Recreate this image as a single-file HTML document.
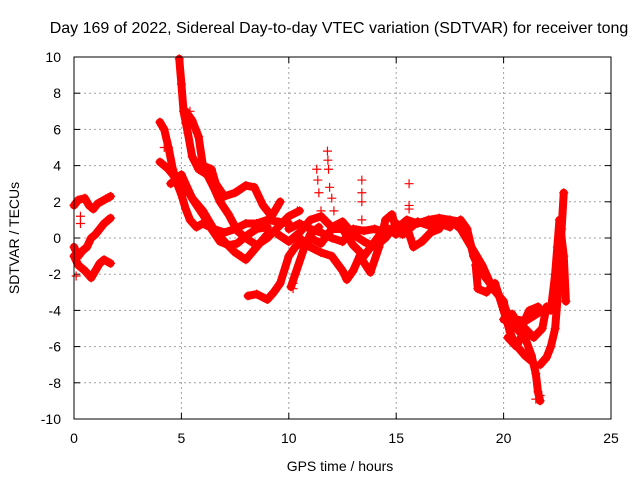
<!DOCTYPE html>
<html><head><meta charset="utf-8"><style>
html,body{margin:0;padding:0;background:#fff}
svg{display:block;font-family:"Liberation Sans",sans-serif}
</style></head><body>
<svg id="chart" width="640" height="480" viewBox="0 0 640 480">
<text x="339" y="33" font-size="16" text-anchor="middle">Day 169 of 2022, Sidereal Day-to-day VTEC variation (SDTVAR) for receiver tong</text>
<text x="340" y="471" font-size="14" text-anchor="middle">GPS time / hours</text>
<text x="19" y="238" font-size="14" text-anchor="middle" transform="rotate(-90 19 238)">SDTVAR / TECUs</text>
<g id="grid"></g>
<g id="ticks"></g>
<g id="marks"></g>
<rect x="74" y="57" width="537" height="362" fill="none" stroke="#000" stroke-width="1"/>
</svg>
<script>
const xTicks=[0,5,10,15,20,25];
const yTicks=[-10,-8,-6,-4,-2,0,2,4,6,8,10];
const track1=[[0,1.8],[0.2,2.1],[0.5,2.2],[0.7,1.8],[0.9,1.6],[1.1,1.9],[1.4,2.1],[1.7,2.3]];
const track2=[[0,-0.5],[0.2,-1.0],[0.4,-0.7],[0.6,-0.5],[0.8,0],[1.0,0.2],[1.2,0.5],[1.4,0.8],[1.7,1.1]];
const track3=[[0,-1.0],[0.2,-1.5],[0.5,-1.8],[0.8,-2.2],[1.0,-1.8],[1.2,-1.4],[1.4,-1.2],[1.7,-1.4]];
const track4=[[4.0,6.4],[4.2,6.0],[4.4,5.0],[4.6,3.8],[4.8,3.0],[5.0,2.4],[5.2,1.6],[5.4,1.0],[5.7,0.6],[6.0,0.8],[6.5,0.5],[7.0,0.3],[7.5,0.5],[8.0,0.8],[8.5,0.8],[9.0,1.0],[9.5,0.9],[10,0.8]];
const track5=[[4.0,4.2],[4.4,3.8],[4.8,3.2],[5.2,2.8],[5.6,2.0],[6.0,1.3],[6.4,0.5],[6.8,-0.2],[7.2,-0.4],[7.6,-0.3],[8.0,0.1],[8.5,0.5],[9,0.6]];
const track6=[[4.9,9.9],[5.0,8.5],[5.1,7.0],[5.3,5.8],[5.5,4.5],[5.8,3.8],[6.2,3.5],[6.5,2.8],[6.8,2.0],[7.2,1.3],[7.6,0.4],[8.0,0.0],[8.5,-0.4],[9.0,0.0],[9.5,0.6],[10,1.2],[10.5,1.5]];
const track7=[[5.2,7.0],[5.5,6.5],[5.8,5.6],[6.0,4.0],[6.4,3.8],[6.6,3.0],[7,2.3],[7.5,2.5],[8,2.9],[8.4,2.8],[8.8,1.8],[9.2,1.2],[9.6,2.0]];
const track8=[[4.5,3.0],[5.0,3.5],[5.5,2.2],[6,1.5],[6.5,0.5],[7,-0.2],[7.5,-0.8],[8,-1.2],[8.5,-0.5],[9,0.2]];
const track9=[[8.1,-3.2],[8.5,-3.1],[9,-3.4],[9.3,-3.0],[9.6,-2.5],[10,-1.0],[10.3,-0.5],[10.6,-0.1]];
const track10=[[10.1,-2.7],[10.3,-2.0],[10.7,-0.6],[11,0.2],[11.4,0.6]];
const track11=[[10,0.5],[10.5,0.8],[11,0.5],[11.5,0.3],[12,0],[12.5,-0.2],[13,0.5],[13.5,0.4],[14,0.5],[14.5,0.3],[15,0.5],[15.5,1.0],[16,0.8],[16.5,1.0],[17,1.1],[17.5,1.0],[18,0.9]];
const track12=[[10.5,0],[11,-0.5],[11.5,-0.8],[12,-1.0],[12.5,-1.8],[12.7,-2.3],[13.0,-1.8],[13.3,-1.0],[13.8,-1.9],[14.2,-0.5],[14.5,1.0],[14.8,1.3],[15,0.5],[15.3,0.2],[15.5,0.6],[15.8,-0.5],[16.2,-0.2],[16.6,0.3],[17,0.5]];
const track13=[[17.5,1.0],[18,0.5],[18.5,-0.5],[19,-1.5],[19.5,-2.8],[20,-3.5],[20.2,-4.5],[20.6,-5.0],[21.0,-5.5],[21.3,-6.5],[21.5,-7.5],[21.6,-8.5],[21.7,-9.0]];
const track14=[[18,1.0],[18.3,0.5],[18.6,-1.0],[18.9,-1.8],[19.3,-2.4],[19.8,-3.2],[20.2,-4.2],[20.6,-4.5],[21,-4.6],[21.4,-4.3],[21.8,-4.0]];
const track15=[[18.7,-1.5],[18.8,-2.8],[19.2,-3.0],[19.6,-2.5],[20,-4.0],[20.3,-5.2],[20.5,-5.8],[21,-6.5],[21.3,-6.8]];
const track16=[[21.7,-7.0],[22,-6.6],[22.2,-6.0],[22.4,-5.0],[22.5,-3.5],[22.6,-1.5],[22.7,0.5],[22.8,2.5]];
const track17=[[22.2,-4.0],[22.4,-2.0],[22.5,-0.5],[22.6,1.0],[22.8,-1.0],[22.9,-3.5]];
const track18=[[9.5,0.2],[10,-0.2],[10.5,0.3],[11,1.0],[11.5,1.2],[12,0.6],[12.5,0.9],[13,0.2],[13.5,-0.2],[14,-0.5],[14.5,0.0],[15,0.8],[15.5,0.4],[16,0.9],[16.5,0.7],[17,0.8],[17.5,0.6]];
const track19=[[11,0],[11.5,-0.3],[12,0.5],[12.5,0.5],[13,-0.4],[13.5,-1.0],[14,-0.2],[14.5,0.6],[15,0.2]];
const track20=[[20,-4.5],[20.4,-4.2],[20.8,-5.0],[21.2,-4.0],[21.6,-3.8],[21.9,-4.2]];
const track21=[[20.2,-5.5],[20.6,-6.0],[21.0,-5.0],[21.4,-5.5],[21.8,-5.0],[22.0,-3.8]];
const spikes=[[11.3,3.8],[11.35,3.2],[11.4,2.5],[11.5,1.5],[11.8,4.8],[11.82,4.3],[11.85,3.8],[11.9,2.8],[12.1,1.5],[12.0,2.2],[13.4,3.2],[13.4,2.5],[13.4,2.0],[13.4,1.0],[15.6,3.0],[15.6,1.8],[15.6,1.6],[10.4,1.5],[0.3,1.2],[0.3,0.8],[0.1,-2.1],[21.5,-8.9],[21.7,-8.7],[10.2,-2.8],[10.2,-2.5],[4.2,5.0],[5.4,7.0]];
const tracks=[track1,track2,track3,track4,track5,track6,track7,track8,track9,track10,track11,track12,track13,track14,track15,track16,track17,track18,track19,track20,track21];

const NS="http://www.w3.org/2000/svg";
const X0=74,X1=611,Y0=419,Y1=57;
function sx(v){return X0+(v-0)/(25-0)*(X1-X0);}
function sy(v){return Y0-(v+10)/20*(Y0-Y1);}
const grid=document.getElementById('grid'),ticks=document.getElementById('ticks'),marks=document.getElementById('marks');
function mk(tag,attrs,parent){const e=document.createElementNS(NS,tag);for(const k in attrs)e.setAttribute(k,attrs[k]);parent.appendChild(e);return e;}
xTicks.forEach(t=>{
  const x=sx(t);
  if(t>0&&t<25){const g=mk('line',{x1:x,x2:x,y1:Y1,y2:Y0,stroke:'#a0a0a0','stroke-dasharray':'2,3'},grid);
  
  }
  mk('line',{x1:x,x2:x,y1:Y0,y2:Y0-6,stroke:'#000'},ticks);
  mk('line',{x1:x,x2:x,y1:Y1,y2:Y1+6,stroke:'#000'},ticks);
  const l=mk('text',{x:x,y:443,'font-size':14,'text-anchor':'middle'},ticks);
  l.textContent=t;
  
  
});
yTicks.forEach(t=>{
  const y=sy(t);
  if(t>-10&&t<10){const g=mk('line',{x1:X0,x2:X1,y1:y,y2:y,stroke:'#a0a0a0','stroke-dasharray':'2,3'},grid);
  
  }
  mk('line',{x1:X0,x2:X0+6,y1:y,y2:y,stroke:'#000'},ticks);
  mk('line',{x1:X1,x2:X1-6,y1:y,y2:y,stroke:'#000'},ticks);
  const l=mk('text',{x:61,y:y+5,'font-size':14,'text-anchor':'end'},ticks);
  l.textContent=t;
  
  
});
function plus(v){
  const x=sx(v[0]),y=sy(v[1]);
  const p=mk('path',{d:`M${x-4.5},${y}H${x+4.5}M${x},${y-4.5}V${y+4.5}`,stroke:'#ff0000','stroke-width':1.2,fill:'none'},marks);
  
  
}
tracks.forEach(tr=>{
  const pl=mk('polyline',{points:tr.map(v=>sx(v[0])+','+sy(v[1])).join(' '),fill:'none',stroke:'#ff0000','stroke-width':8,'stroke-linejoin':'round','stroke-linecap':'round'},marks);
  
  
  tr.forEach(plus);
});
spikes.forEach(plus);
</script>
</body></html>
